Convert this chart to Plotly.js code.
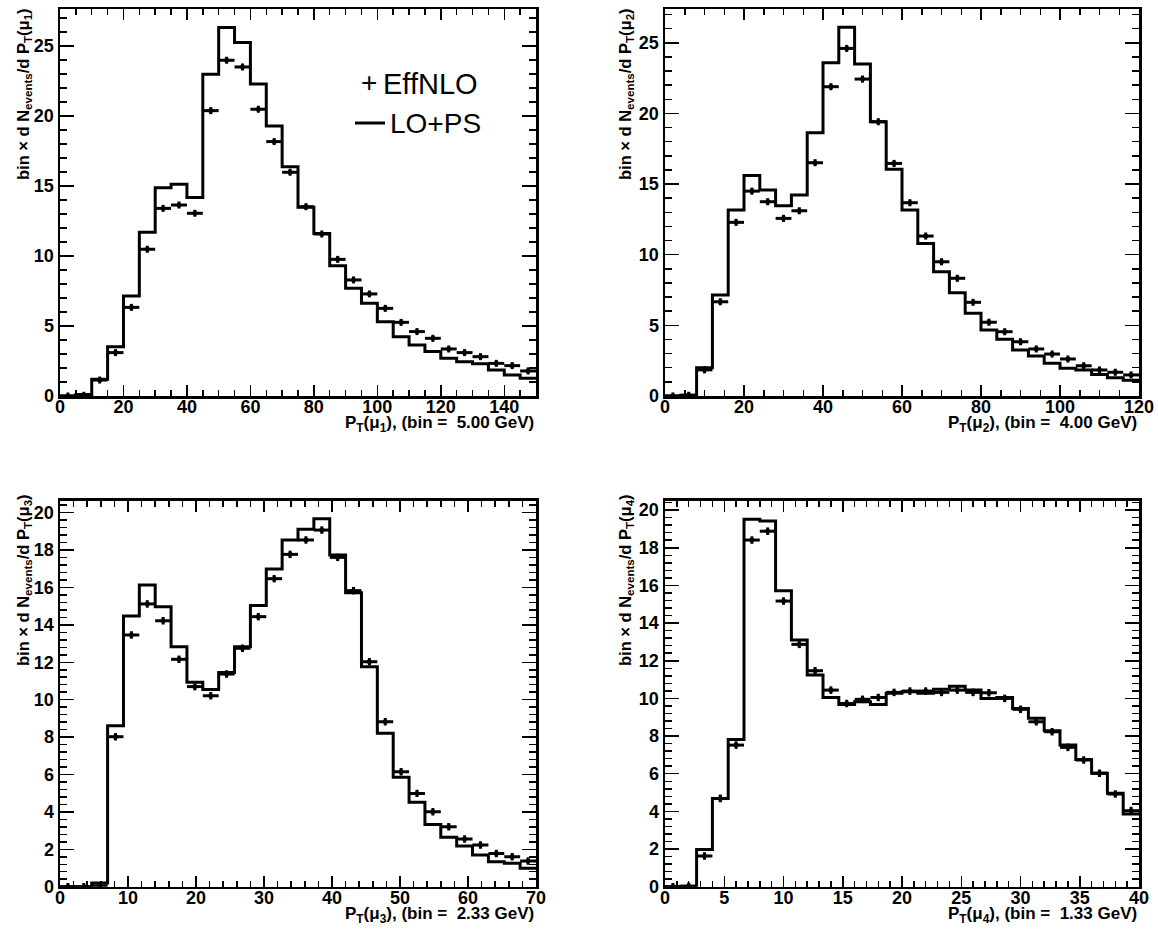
<!DOCTYPE html>
<html>
<head>
<meta charset="utf-8">
<script src="https://cdn.plot.ly/plotly-3.0.1.min.js"></script>
<style>html,body{margin:0;padding:0;background:#fff;}#chart{width:1158px;height:930px;}</style>
</head>
<body>
<div id="chart"></div>
<script>
// ---- Panel 1: PT(mu1), 30 bins, 0-150 GeV ----
const p1Range = [0, 150];
const p1Bins = 30;
const p1LOPS = [0.0, 0.1, 1.19, 3.52, 7.14, 11.69, 14.88, 15.12, 14.17, 22.98,
  26.31, 25.24, 22.29, 19.29, 16.38, 13.48, 11.6, 9.31, 7.69, 6.62,
  5.31, 4.24, 3.64, 3.17, 2.69, 2.45, 2.3, 1.86, 1.5, 1.26];
const p1EffNLO = [0.0, 0.05, 1.14, 3.1, 6.33, 10.48, 13.4, 13.64, 13.05, 20.38,
  23.98, 23.5, 20.48, 18.17, 15.98, 13.52, 11.57, 9.76, 8.29, 7.29,
  6.26, 5.26, 4.6, 4.12, 3.36, 3.1, 2.81, 2.33, 2.17, 1.79];

// ---- Panel 2: PT(mu2), 30 bins, 0-120 GeV ----
const p2Range = [0, 120];
const p2Bins = 30;
const p2LOPS = [0.0, 0.05, 2.0, 7.15, 13.16, 15.6, 14.58, 13.47, 14.22, 18.63,
  23.59, 26.09, 23.5, 19.41, 16.04, 13.16, 10.8, 8.8, 7.31, 5.85,
  4.67, 4.01, 3.26, 2.83, 2.31, 1.96, 1.84, 1.53, 1.3, 1.12];
const p2EffNLO = [0.0, 0.05, 1.85, 6.67, 12.29, 14.5, 13.75, 12.57, 13.11, 16.51,
  21.89, 24.6, 22.43, 19.41, 16.46, 13.68, 11.32, 9.5, 8.33, 6.63,
  5.22, 4.55, 3.84, 3.33, 2.97, 2.62, 2.14, 1.84, 1.68, 1.49];

// ---- Panel 3: PT(mu3), 30 bins, 0-70 GeV ----
const p3Range = [0, 70];
const p3Bins = 30;
const p3LOPS = [0.0, 0.0, 0.2, 8.61, 14.47, 16.13, 14.97, 12.83, 10.93, 10.55,
  11.46, 12.83, 15.03, 16.99, 18.54, 19.11, 19.68, 17.74, 15.72, 11.76,
  8.2, 5.85, 4.51, 3.33, 2.64, 2.17, 1.69, 1.34, 1.25, 0.98];
const p3EffNLO = [0.0, 0.0, 0.05, 8.02, 13.46, 15.12, 14.22, 12.16, 10.7, 10.21,
  11.37, 12.75, 14.44, 16.47, 17.77, 18.54, 19.07, 17.61, 15.83, 12.03,
  8.82, 6.15, 4.99, 4.01, 3.21, 2.55, 2.23, 1.78, 1.6, 1.37];

// ---- Panel 4: PT(mu4), 30 bins, 0-40 GeV ----
const p4Range = [0, 40];
const p4Bins = 30;
const p4LOPS = [0.0, 0.03, 1.98, 4.69, 7.82, 19.52, 19.42, 15.72, 13.1, 11.24,
  10.05, 9.68, 9.82, 9.68, 10.27, 10.35, 10.27, 10.48, 10.65, 10.44,
  10.0, 10.05, 9.47, 8.94, 8.28, 7.52, 6.76, 6.02, 4.96, 3.86];
const p4EffNLO = [0.0, 0.02, 1.63, 4.69, 7.52, 18.41, 18.88, 15.17, 12.87, 11.47,
  10.44, 9.73, 9.95, 10.05, 10.32, 10.39, 10.39, 10.32, 10.44, 10.32,
  10.3, 10.0, 9.42, 8.76, 8.23, 7.4, 6.73, 6.02, 4.92, 4.04];

const xTitles = [
  'P<sub>T</sub>(μ<sub>1</sub>), (bin =\u00a0\u00a05.00 GeV)',
  'P<sub>T</sub>(μ<sub>2</sub>), (bin =\u00a0\u00a04.00 GeV)',
  'P<sub>T</sub>(μ<sub>3</sub>), (bin =\u00a0\u00a02.33 GeV)',
  'P<sub>T</sub>(μ<sub>4</sub>), (bin =\u00a0\u00a01.33 GeV)'
];
const yTitles = [
  'bin × d N<sub>events</sub>/d P<sub>T</sub>(μ<sub>1</sub>)',
  'bin × d N<sub>events</sub>/d P<sub>T</sub>(μ<sub>2</sub>)',
  'bin × d N<sub>events</sub>/d P<sub>T</sub>(μ<sub>3</sub>)',
  'bin × d N<sub>events</sub>/d P<sub>T</sub>(μ<sub>4</sub>)'
];
const legendLabels = ['EffNLO', 'LO+PS'];

// ---------------- drawing ----------------
const W = 1158, H = 930;
const FONT = 'Liberation Sans, Arial, sans-serif';
const px = v => v / W;
const py = v => 1 - v / H;

const panels = [
  {range: p1Range, n: p1Bins, lo: p1LOPS, nlo: p1EffNLO, ymax: 27.64, dx: 20, mdx: 5, dy: 5, mdy: 1, ey: 0.25},
  {range: p2Range, n: p2Bins, lo: p2LOPS, nlo: p2EffNLO, ymax: 27.39, dx: 20, mdx: 5, dy: 5, mdy: 1, ey: 0.25},
  {range: p3Range, n: p3Bins, lo: p3LOPS, nlo: p3EffNLO, ymax: 20.64, dx: 10, mdx: 2, dy: 2, mdy: 0.4, ey: 0.2},
  {range: p4Range, n: p4Bins, lo: p4LOPS, nlo: p4EffNLO, ymax: 20.5, dx: 5, mdx: 1, dy: 2, mdy: 0.4, ey: 0.2}
];
const xDom = [[px(60), px(536)], [px(665), px(1139)], [px(60), px(536)], [px(665), px(1139)]];
const yDom = [[py(396), py(9)], [py(396), py(9)], [py(886.7), py(500.7)], [py(886.7), py(500.7)]];

const traces = [];
const layout = {
  width: W, height: H,
  margin: {l: 0, r: 0, t: 0, b: 0},
  paper_bgcolor: 'white', plot_bgcolor: 'white',
  showlegend: false,
  font: {family: FONT, color: 'black'},
  annotations: [], shapes: []
};

panels.forEach((p, i) => {
  const k = i === 0 ? '' : String(i + 1);
  const w = (p.range[1] - p.range[0]) / p.n;
  const edges = [], centers = [];
  for (let j = 0; j <= p.n; j++) edges.push(p.range[0] + j * w);
  for (let j = 0; j < p.n; j++) centers.push(p.range[0] + (j + 0.5) * w);
  traces.push({
    x: edges, y: p.lo.concat([p.lo[p.lo.length - 1]]),
    xaxis: 'x' + k, yaxis: 'y' + k,
    mode: 'lines', line: {shape: 'hv', color: 'black', width: 3},
    hoverinfo: 'skip'
  });
  traces.push({
    x: centers, y: p.nlo,
    xaxis: 'x' + k, yaxis: 'y' + k,
    mode: 'markers', marker: {symbol: 'square', size: 4, color: 'black'},
    error_x: {type: 'constant', value: w / 2, width: 0, thickness: 3, color: 'black'},
    error_y: {type: 'constant', value: p.ey, width: 0, thickness: 3, color: 'black'},
    hoverinfo: 'skip'
  });
  const common = {
    showline: true, linecolor: 'black', linewidth: 2.5, mirror: 'allticks',
    ticks: 'inside', tickcolor: 'black', tickwidth: 1.5,
    showgrid: false, zeroline: false,
    tickfont: {family: FONT, size: 18, weight: 'bold', color: 'black'}
  };
  layout['xaxis' + k] = Object.assign({}, common, {
    domain: xDom[i], anchor: 'y' + k, range: p.range,
    tick0: 0, dtick: p.dx, ticklen: 11, ticklabelstandoff: -7,
    minor: {dtick: p.mdx, ticks: 'inside', ticklen: 6, tickwidth: 1.5, tickcolor: 'black'}
  });
  layout['yaxis' + k] = Object.assign({}, common, {
    domain: yDom[i], anchor: 'x' + k, range: [0, p.ymax],
    tick0: 0, dtick: p.dy, ticklen: 14,
    minor: {dtick: p.mdy, ticks: 'inside', ticklen: 7, tickwidth: 1.5, tickcolor: 'black'}
  });
  // x-axis title (right aligned under axis)
  const axisBottomPx = (i < 2) ? 396 : 886.7;
  layout.annotations.push({
    xref: 'paper', yref: 'paper', x: xDom[i][1], y: py(axisBottomPx + 28),
    xanchor: 'right', yanchor: 'middle', showarrow: false,
    text: '<b>' + xTitles[i] + '</b>',
    font: {size: 17, color: 'black', family: FONT}
  });
  // y-axis title (rotated, right aligned at top)
  const ytx = (i % 2 === 0) ? 24 : 626;
  const yty = (i < 2) ? 6 : 492;
  layout.annotations.push({
    xref: 'paper', yref: 'paper', x: px(ytx), y: py(yty),
    xanchor: 'center', yanchor: 'top', showarrow: false, textangle: -90,
    text: '<b>' + yTitles[i] + '</b>',
    font: {size: 16.5, color: 'black', family: FONT}
  });
});

// legend (panel 1)
layout.annotations.push({
  xref: 'paper', yref: 'paper', x: px(369), y: py(83), xanchor: 'center', yanchor: 'middle',
  showarrow: false, text: '+', font: {size: 28, color: 'black', family: FONT}
});
layout.annotations.push({
  xref: 'paper', yref: 'paper', x: px(381), y: py(84), xanchor: 'left', yanchor: 'middle',
  showarrow: false, text: legendLabels[0], font: {size: 29, color: 'black', family: FONT}
});
layout.annotations.push({
  xref: 'paper', yref: 'paper', x: px(388), y: py(124), xanchor: 'left', yanchor: 'middle',
  showarrow: false, text: legendLabels[1], font: {size: 28, color: 'black', family: FONT}
});
layout.shapes.push({
  type: 'line', xref: 'paper', yref: 'paper', x0: px(355), x1: px(385), y0: py(123), y1: py(123),
  line: {color: 'black', width: 3}
});

Plotly.newPlot('chart', traces, layout, {staticPlot: true, displayModeBar: false});
</script>
</body>
</html>
